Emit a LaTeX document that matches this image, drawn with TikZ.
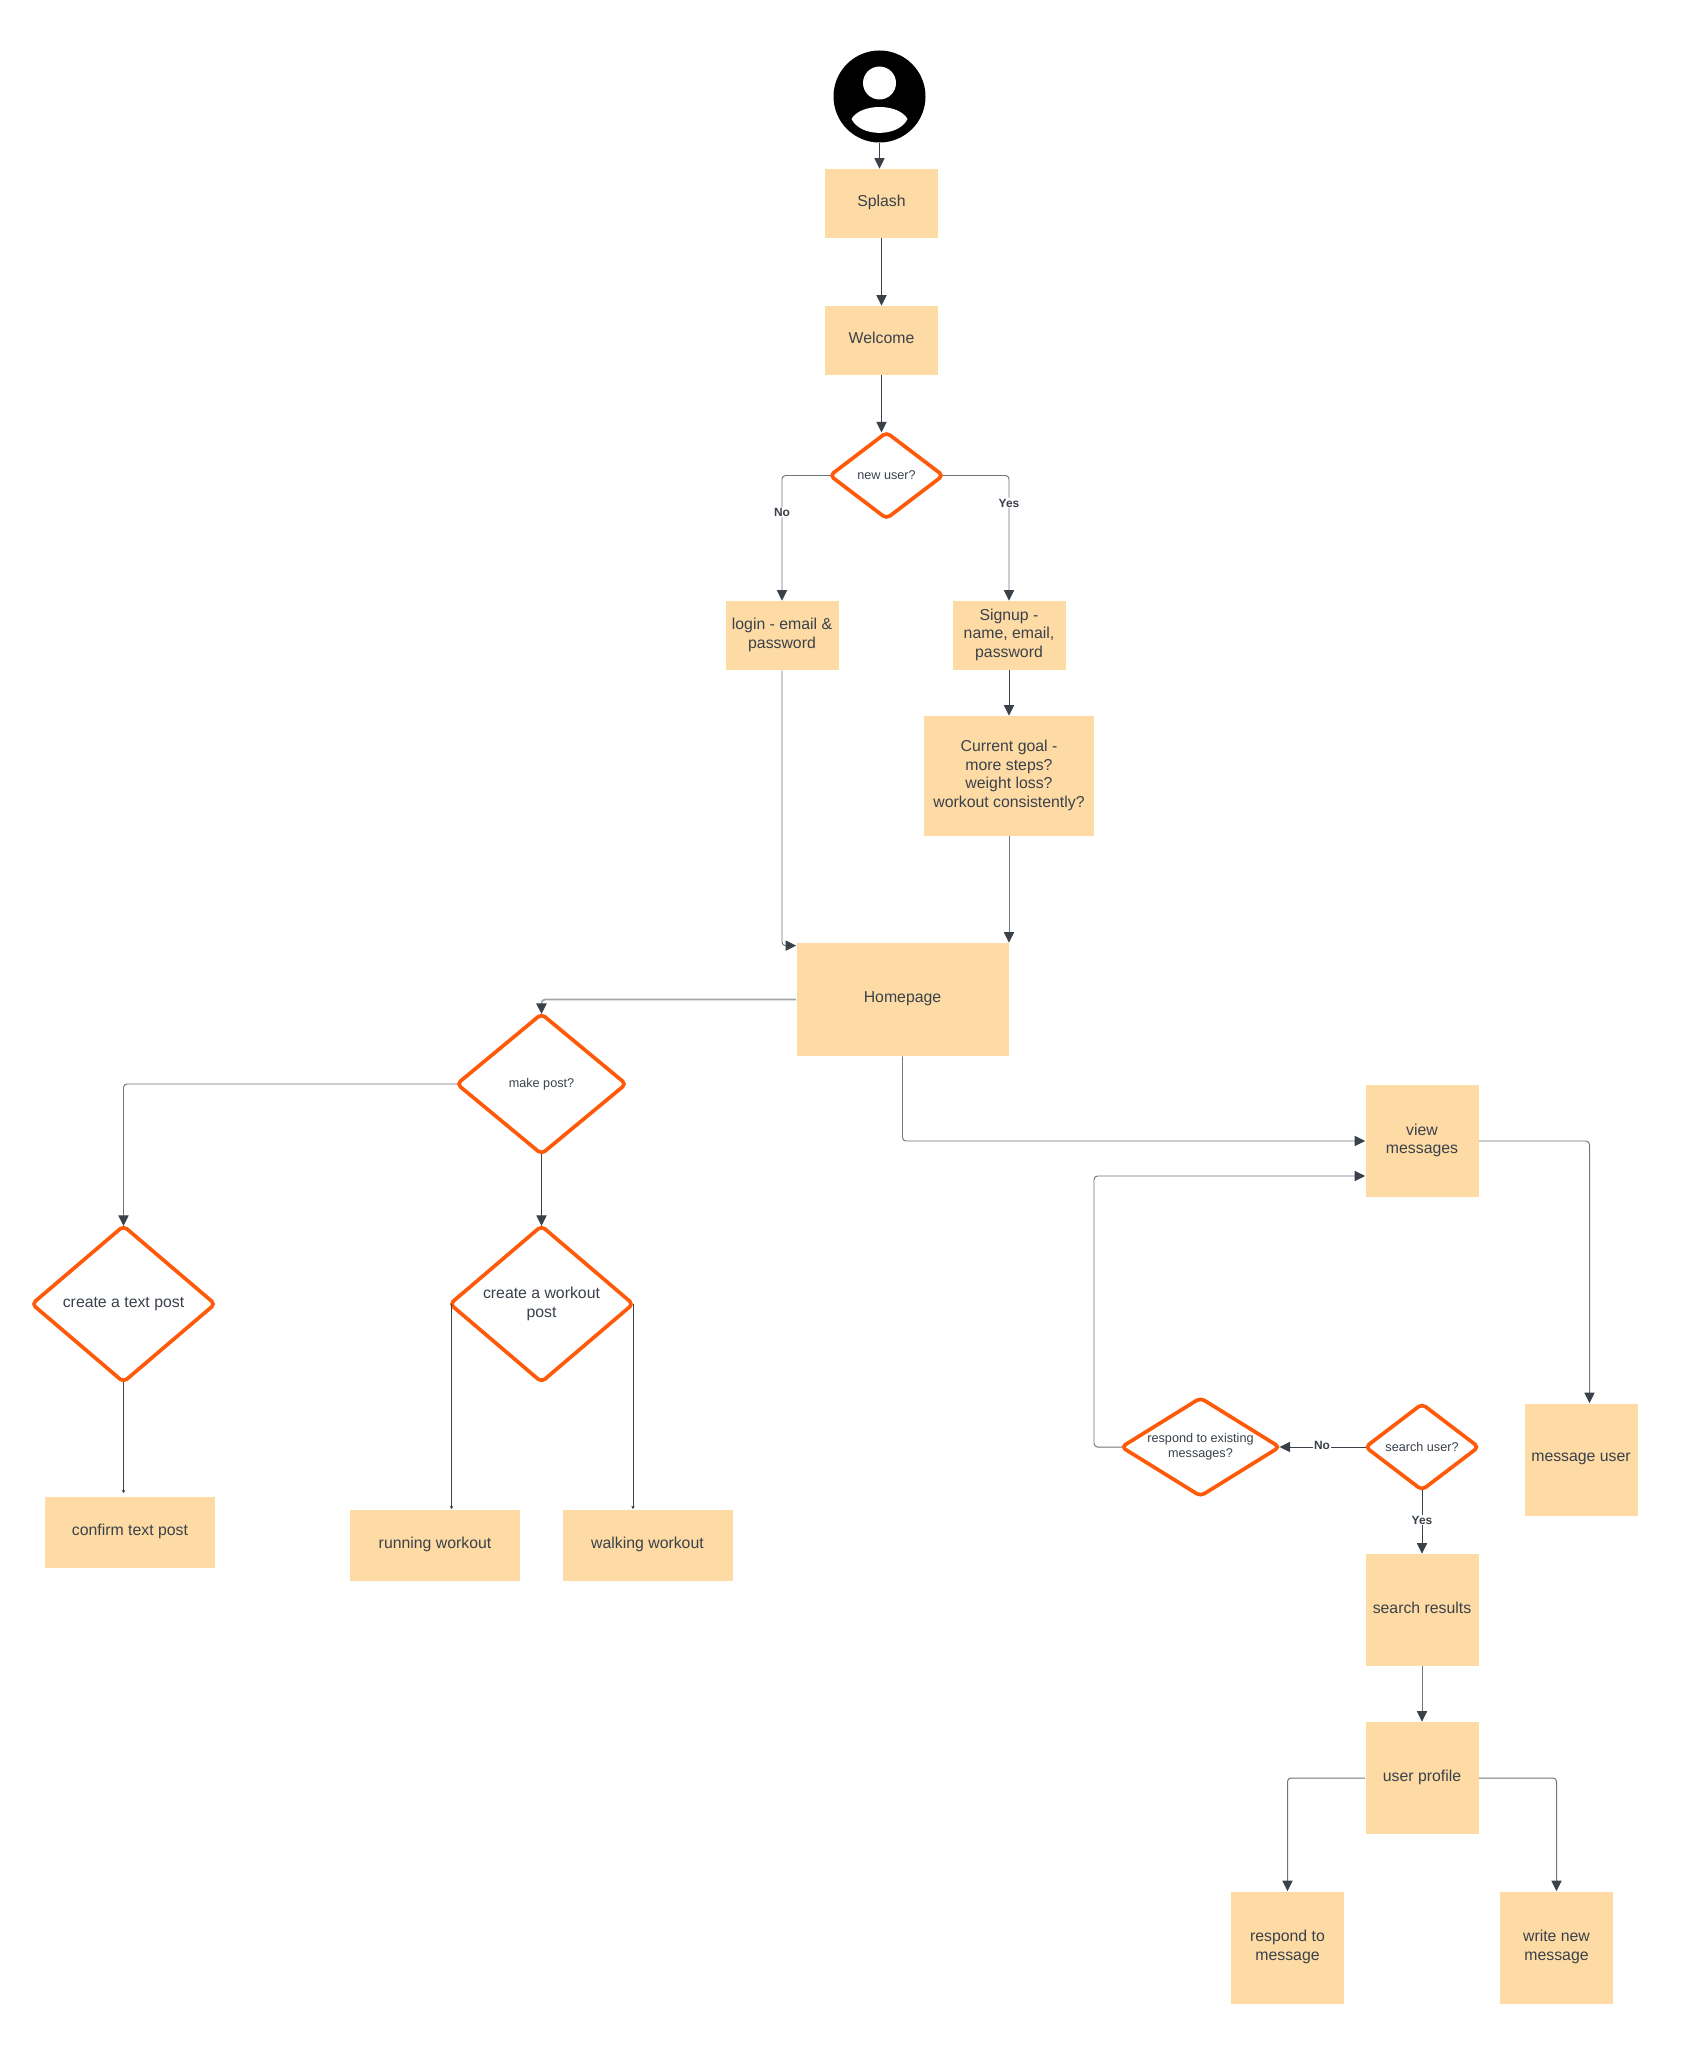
\documentclass[tikz,border=0pt]{standalone}
\usepackage{fontspec}
\setmainfont{Liberation Sans}
\usepackage{xcolor}
\usetikzlibrary{shapes.geometric, arrows.meta, positioning, calc}
\definecolor{boxfill}{HTML}{FEDBA5}
\definecolor{decline}{HTML}{FF5A0A}
\definecolor{inkc}{HTML}{3A414A}
\definecolor{lightc}{HTML}{6F757D}
\definecolor{palec}{HTML}{A0A4AA}

\begin{document}
\begin{tikzpicture}[
  font=\fontsize{9}{10.6}\selectfont,
  every node/.style={align=center, text=inkc},
  blk/.style={fill=boxfill, inner sep=0pt, text depth=2.6pt, minimum width=2.26cm, minimum height=1.38cm},
  sq/.style={blk, minimum height=2.24cm},
  wide/.style={blk, minimum width=3.4cm, minimum height=1.42cm},
  dec/.style={diamond, draw=decline, line width=2.1pt, rounded corners=2.5pt, fill=white, inner sep=0pt, outer sep=0pt},
  small/.style={font=\fontsize{7.2}{8.6}\selectfont},
  arr/.style={-{Triangle[length=6pt,width=5.8pt,color=inkc,fill=inkc]}, inkc, line width=0.55pt, rounded corners=2pt},
  arrg/.style={arr, lightc},
  arrp/.style={arr, palec, line width=0.9pt},
  tiny/.style={-{Triangle[length=1.6pt,width=1.8pt]}, inkc, line width=0.5pt},
  lab/.style={font=\fontsize{6.8}{8}\selectfont\bfseries, fill=white, inner sep=0.5pt}
]
\useasboundingbox (0,0) rectangle (34,-40.96);

% user icon
\node[circle, fill=black, inner sep=0pt, minimum size=1.84cm] (user) at (17.59,-1.93) {};
\node[circle, fill=white, inner sep=0pt, minimum size=0.66cm] (head) at (17.59,-1.66) {};
\fill[white] (17.03,-2.38) .. controls (17.21,-2.06) and (17.97,-2.06) .. (18.15,-2.38)
  .. controls (17.97,-2.75) and (17.21,-2.75) .. (17.03,-2.38);

% top of the flow
\node[blk] (splash) at (17.63,-4.07) {Splash};
\node[blk] (welcome) at (17.63,-6.81) {Welcome};
\node[dec, small, minimum width=2.26cm, minimum height=1.72cm] (newuser) at (17.73,-9.51) {new user?};
\node[blk] (login) at (15.64,-12.71) {login - email \&\\password};
\node[blk] (signup) at (20.18,-12.71) {Signup -\\name, email,\\password};
\node[blk, minimum width=3.4cm, minimum height=2.4cm] (goal) at (20.18,-15.52)
  {Current goal -\\more steps?\\weight loss?\\workout consistently?};
\node[blk, minimum width=4.24cm, minimum height=2.26cm] (home) at (18.05,-19.99) {Homepage};

% posts
\node[dec, small, minimum width=3.38cm, minimum height=2.8cm] (makepost) at (10.83,-21.68) {make post?};
\node[dec, minimum width=3.66cm, minimum height=3.12cm] (textpost) at (2.47,-26.08) {create a text post};
\node[dec, minimum width=3.66cm, minimum height=3.12cm] (workoutpost) at (10.83,-26.08) {create a workout\\post};
\node[wide] (confirm) at (2.60,-30.64) {confirm text post};
\node[wide] (running) at (8.70,-30.90) {running workout};
\node[wide] (walking) at (12.95,-30.90) {walking workout};

% messages
\node[sq] (view) at (28.44,-22.82) {view\\messages};
\node[sq] (msguser) at (31.62,-29.19) {message user};
\node[dec, small, aspect=1.6, minimum width=3.16cm, minimum height=1.96cm] (existing) at (24.01,-28.94) {respond to existing\\messages?};
\node[dec, small, minimum width=2.26cm, minimum height=1.72cm] (search) at (28.44,-28.94) {search user?};
\node[sq] (results) at (28.44,-32.20) {search results};
\node[sq] (profile) at (28.44,-35.56) {user profile};
\node[sq] (respond) at (25.75,-38.95) {respond to\\message};
\node[sq] (writenew) at (31.13,-38.95) {write new\\message};

\draw[arr] (user.south) -- (user.south |- splash.north);
\draw[arr] (splash) -- (welcome);
\draw[arr] (welcome.south) -- (welcome.south |- newuser.north);
\draw[arrg] (newuser.west) -| (login.north) node[pos=0.647, lab] {No};
\draw[arrg] (newuser.east) -| (signup.north) node[pos=0.61, lab] {Yes};
\draw[arr] (signup) -- (goal);
\draw[arrg] (login.south) |- ($(home.north west)+(0,-0.06)$);
\draw[arrg] (goal.south) -- (goal.south |- home.north);
\draw[arrp] (home.west) -| (makepost.north);
\draw[arrg] (makepost.west) -| (textpost.north);
\draw[arr] (makepost) -- (makepost |- workoutpost.north);
\draw[tiny] (textpost.south) -- ($(textpost.south |- confirm.north)+(0,0.06)$);
\draw[tiny] ($(workoutpost.west)+(0.03,0)$) -- ($(workoutpost.west |- running.north)+(0.03,0)$);
\draw[tiny] ($(workoutpost.east)+(0,0)$) -- ($(workoutpost.east |- walking.north)+(0,0)$);
\draw[arrg] (home.south) |- (view.west);
\draw[arrg] (view.east) -| ($(msguser.north)+(0.17,0)$);
\draw[arr] (search) -- (existing);
\node[lab] (searchno) at (26.44,-28.90) {No};
\draw[arr] (search) -- (results);
\node[lab] (searchyes) at (28.44,-30.40) {Yes};
\coordinate (backin) at ($(view.west)+(0,-0.70)$);
\draw[arrg] (existing.west) -- ++(-0.55,0) |- (backin);
\draw[arrg] (results) -- (profile);
\draw[arrg] (profile.west) -| (respond.north);
\draw[arrg] (profile.east) -| (writenew.north);
\end{tikzpicture}
\end{document}
